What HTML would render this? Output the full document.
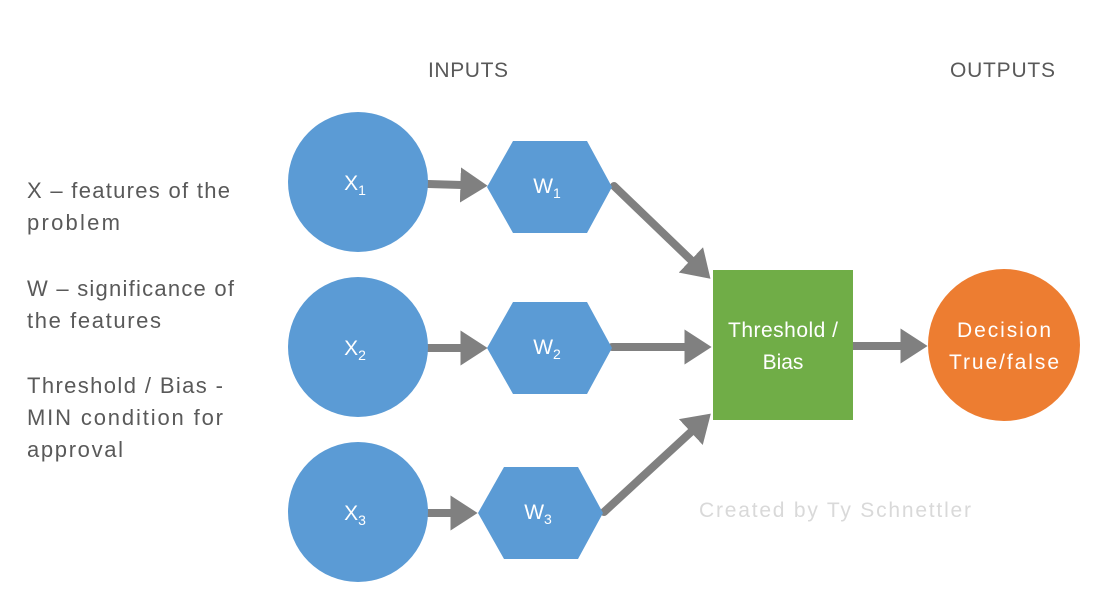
<!DOCTYPE html>
<html><head><meta charset="utf-8"><style>
html,body{margin:0;padding:0;background:#fff;width:1097px;height:589px;overflow:hidden}
svg text{font-family:"Liberation Sans",sans-serif}
</style></head><body>
<svg width="1097" height="589" viewBox="0 0 1097 589">
<defs>
<marker id="ah" markerWidth="4" markerHeight="4.4" refX="0.2" refY="2.2" orient="auto" markerUnits="strokeWidth">
<path d="M0,0 L3.4,2.2 L0,4.4 Z" fill="#808080"/>
</marker>
</defs>
<g font-size="21" fill="#595959">
<text x="428" y="77" textLength="80">INPUTS</text>
<text x="950" y="77" textLength="105">OUTPUTS</text>
</g>
<g font-size="22" fill="#595959">
<text x="27" y="198" textLength="203">X – features of the</text>
<text x="27" y="230" textLength="93">problem</text>
<text x="27" y="296" textLength="207">W – significance of</text>
<text x="27" y="328" textLength="134">the features</text>
<text x="27" y="393" textLength="196">Threshold / Bias -</text>
<text x="27" y="425" textLength="196">MIN condition for</text>
<text x="27" y="457" textLength="96">approval</text>
</g>
<g stroke="#808080" stroke-width="8" stroke-linecap="round" fill="none" marker-end="url(#ah)">
<line x1="428" y1="184" x2="462" y2="185"/>
<line x1="428" y1="348" x2="462" y2="348"/>
<line x1="428" y1="513" x2="452" y2="513"/>
<line x1="614" y1="186" x2="692" y2="261"/>
<line x1="612" y1="347" x2="686" y2="347"/>
<line x1="604" y1="512" x2="692" y2="431"/>
<line x1="853" y1="346" x2="902" y2="346"/>
</g>
<g fill="#5b9bd5">
<circle cx="358" cy="182" r="70"/>
<circle cx="358" cy="347" r="70"/>
<circle cx="358" cy="512" r="70"/>
<polygon points="487,187 513,141 587,141 612,187 587,233 513,233"/>
<polygon points="487,348 513,302 587,302 612,348 587,394 513,394"/>
<polygon points="478,513 504,467 578,467 603,513 578,559 504,559"/>
</g>
<rect x="713" y="270" width="140" height="150" fill="#70ad47"/>
<circle cx="1004" cy="345" r="76" fill="#ed7d31"/>
<g fill="#fff" font-size="21" text-anchor="middle">
<text x="355" y="190">X<tspan font-size="14" dy="5">1</tspan></text>
<text x="355" y="355">X<tspan font-size="14" dy="5">2</tspan></text>
<text x="355" y="520">X<tspan font-size="14" dy="5">3</tspan></text>
<text x="547" y="193">W<tspan font-size="14" dy="5">1</tspan></text>
<text x="547" y="354">W<tspan font-size="14" dy="5">2</tspan></text>
<text x="538" y="519">W<tspan font-size="14" dy="5">3</tspan></text>
<text x="783" y="337" textLength="110">Threshold /</text>
<text x="783" y="369">Bias</text>
<text x="1004" y="337" textLength="94">Decision</text>
<text x="1004" y="369" textLength="110">True/false</text>
</g>
<text x="699" y="517" font-size="21" fill="#d9d9d9" textLength="272">Created by Ty Schnettler</text>
</svg>
</body></html>
